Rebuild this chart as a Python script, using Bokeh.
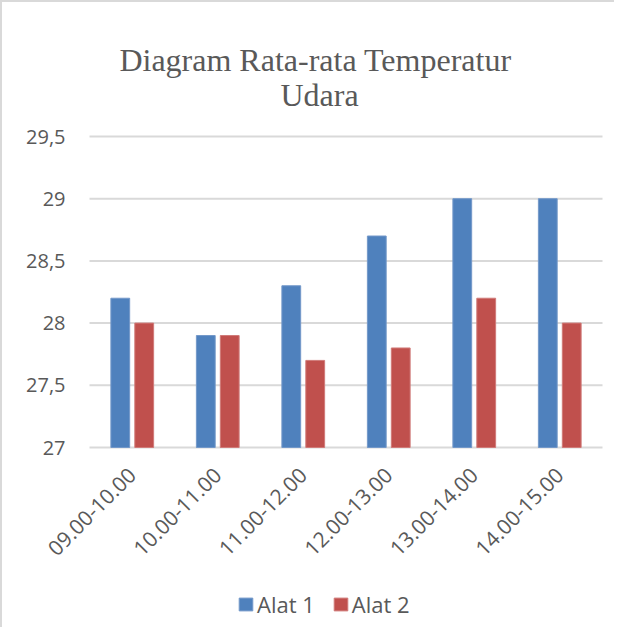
import math
from bokeh.plotting import figure
from bokeh.models import Range1d, Legend, LegendItem, ColumnDataSource
from bokeh.core.properties import value
from bokeh.transform import dodge
from bokeh.embed import file_html
from bokeh.resources import INLINE

# ---- data ----
categories = ["09.00-10.00", "10.00-11.00", "11.00-12.00", "12.00-13.00", "13.00-14.00", "14.00-15.00"]
alat1 = [28.2, 27.9, 28.3, 28.7, 29.0, 29.0]
alat2 = [28.0, 27.9, 27.7, 27.8, 28.2, 28.0]
series_names = ["Alat 1", "Alat 2"]
y_ticks = [27, 27.5, 28, 28.5, 29, 29.5]
y_tick_labels = ["27", "27,5", "28", "28,5", "29", "29,5"]
title_lines = ["Diagram Rata-rata  Temperatur", "Udara"]

GRAY = "#595959"
GRID = "#d9d9d9"
BLUE = "#4F81BD"
RED = "#C0504D"

# ---- layout (pixels) ----
W, H = 614, 627
CANVAS_X0, CANVAS_Y0 = 2, 2          # canvas offset inside the page (border)
AREA_L, AREA_R = 89, 602             # plot area, page pixels
AREA_T, AREA_B = 136, 447
n = len(categories)
ymin, ymax = y_ticks[0], y_ticks[-1]
px_x = (AREA_R - AREA_L) / n
px_y = (AREA_B - AREA_T) / (ymax - ymin)

def dx(px):  # pixels -> x units
    return px / px_x

def dy(px):  # pixels -> y units
    return px / px_y

x_start = dx(CANVAS_X0 - AREA_L)
x_end = dx(CANVAS_X0 + W - AREA_L)
y_end = ymin + dy(AREA_B - CANVAS_Y0)
y_start = ymin - dy(CANVAS_Y0 + H - AREA_B)

p = figure(width=W, height=H, x_range=Range1d(x_start, x_end), y_range=Range1d(y_start, y_end),
           output_backend="svg", toolbar_location=None,
           x_axis_location=None, y_axis_location=None,
           min_border_left=0, min_border_right=0, min_border_top=0, min_border_bottom=0)
p.outline_line_color = None
p.background_fill_color = "white"
p.border_fill_color = "white"
p.grid.visible = False
p.styles = {"border-top": "2px solid #d9d9d9", "border-left": "2px solid #d9d9d9"}

xpos = [i + 0.5 for i in range(n)]
src = ColumnDataSource(dict(x=xpos, cat=categories, a1=alat1, a2=alat2, base=[ymin] * n))

# horizontal gridlines at the y ticks, across the plot area
grid_src = ColumnDataSource(dict(y=y_ticks, lab=y_tick_labels, x0=[0] * len(y_ticks), x1=[n] * len(y_ticks)))
p.segment(x0="x0", x1="x1", y0="y", y1="y", source=grid_src, line_color=GRID, line_width=2)

# y tick labels
p.text(x="x0", y="y", text="lab", source=grid_src, x_offset=-24,
       text_align="right", text_baseline="middle",
       text_font=value("Open Sans"), text_font_size=value("20px"), text_color=GRAY)

# bars
r1 = p.vbar(x=dodge("x", -0.14), top="a1", bottom="base", width=0.22, source=src,
            fill_color=BLUE, line_color="#7398C9", line_width=1)
r2 = p.vbar(x=dodge("x", 0.14), top="a2", bottom="base", width=0.22, source=src,
            fill_color=RED, line_color="#D07A78", line_width=1)

# rotated category labels under the plot area
lab_src = ColumnDataSource(dict(x=[v + dx(-0.5) for v in xpos], y=[ymin - dy(23.5)] * n, t=categories))
p.text(x="x", y="y", text="t", source=lab_src, angle=math.pi / 4,
       text_align="right", text_baseline="middle",
       text_font=value("Open Sans"), text_font_size=value("21px"), text_color=GRAY)

# title (two lines, centred on the chart)
title_cx = dx(319 - AREA_L)
t_src = ColumnDataSource(dict(x=[title_cx, title_cx],
                              y=[ymax + dy(AREA_T - 59), ymax + dy(AREA_T - 94)],
                              t=title_lines))
p.text(x="x", y="y", text="t", source=t_src, text_align="center", text_baseline="alphabetic",
       text_font=value("Liberation Serif"), text_font_size=value("32px"), text_color=GRAY)

# legend
legend = Legend(items=[LegendItem(label=series_names[0], renderers=[r1]),
                       LegendItem(label=series_names[1], renderers=[r2])],
                location=(235, 10), orientation="horizontal",
                border_line_color=None, background_fill_alpha=0,
                padding=0, margin=0, spacing=17, glyph_width=17, glyph_height=16,
                label_standoff=3, label_height=26,
                label_text_font="Open Sans", label_text_font_size="22px",
                label_text_color=GRAY)
p.add_layout(legend, "center")

open("out.html", "w").write(file_html(p, INLINE))
